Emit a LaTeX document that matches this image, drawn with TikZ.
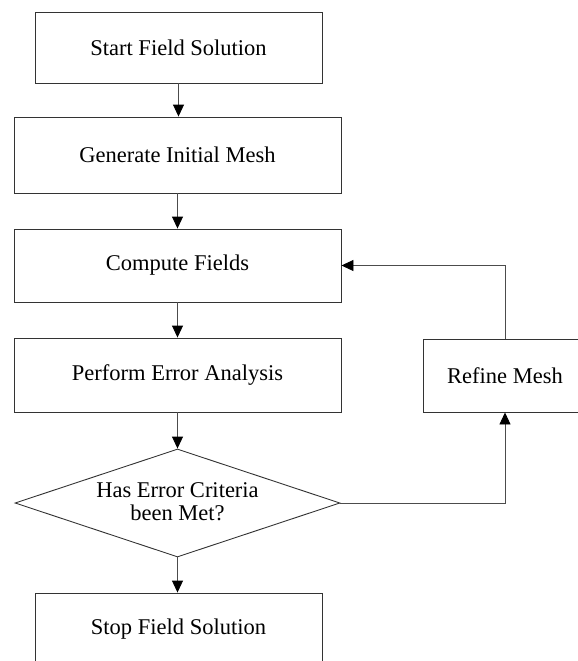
\documentclass[tikz,border=0pt]{standalone}
\usepackage{fontspec}
\setmainfont{Liberation Serif}
\usetikzlibrary{shapes.geometric,arrows.meta,positioning}
\begin{document}
\begin{tikzpicture}[x=1pt,y=-1pt,
  box/.style={draw=black!80,line width=0.9pt,rectangle,inner sep=0pt,
    font=\fontsize{22.5}{24}\selectfont},
  flow/.style={draw=black!70,line width=0.9pt,-{Triangle[length=12pt,width=11pt,color=black]}}]
\useasboundingbox (0,0) rectangle (578,661);
\clip (0,0) rectangle (578,661);
\node[box,minimum width=287,minimum height=71] (start) at (178.5,47.5) {Start Field Solution};
\node[box,minimum width=327,minimum height=76] (gen) at (177.5,155) {Generate Initial Mesh};
\node[box,minimum width=327,minimum height=73] (comp) at (177.5,265.5) {Compute Fields};
\node[box,minimum width=327,minimum height=74] (perf) at (177.5,375) {Perform Error Analysis};
\node[box,minimum width=164,minimum height=73] (ref) at (505,375.5) {Refine Mesh};
\node[draw=black!80,line width=0.9pt,diamond,inner sep=0pt,minimum width=325,minimum height=108] (dec) at (177.5,503) {};
\node[font=\fontsize{22.5}{23.5}\selectfont,align=center,inner sep=0pt] (dtext) at (177.5,501.5) {Has Error Criteria\\been Met?};
\node[box,minimum width=287,minimum height=72] (stop) at (178.5,629) {Stop Field Solution};
\draw[flow] (start.south) -- (start.south |- gen.north);
\draw[flow] (gen.south) -- (gen.south |- comp.north);
\draw[flow] (comp.south) -- (perf.north);
\draw[flow] (perf.south) -- (dec.north);
\draw[flow] (dec.south) -- (dec.south |- stop.north);
\draw[flow] (dec.east) -| (ref.south);
\draw[flow] (ref.north) |- (comp.east);
\end{tikzpicture}
\end{document}
